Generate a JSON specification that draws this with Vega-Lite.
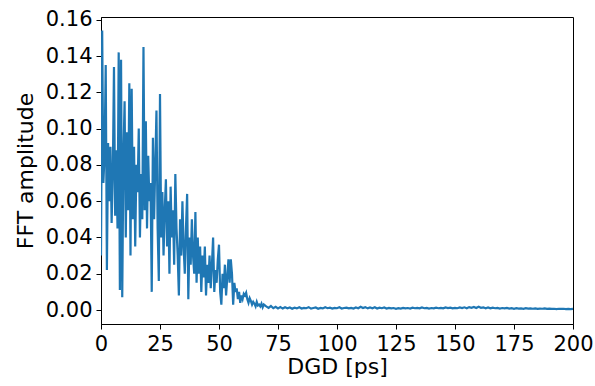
{
  "$schema": "https://vega.github.io/schema/vega-lite/v6.json",
  "width": 472,
  "height": 307,
  "autosize": {"type": "none"},
  "padding": {"left": 101, "top": 17, "right": 22, "bottom": 62},
  "background": "white",
  "view": {"stroke": "black", "strokeWidth": 1},
  "config": {
    "font": "DejaVu Sans",
    "axis": {
      "labelFont": "DejaVu Sans", "titleFont": "DejaVu Sans",
      "labelFontSize": 21, "titleFontSize": 22, "titleFontWeight": "normal",
      "labelColor": "black", "titleColor": "black",
      "domainColor": "black", "tickColor": "black", "tickSize": 5, "tickWidth": 1,
      "domainWidth": 1, "grid": false, "labelPadding": 4
    }
  },
  "data": {"values": [
    {"x":0,"y":0.030},{"x":0.5,"y":0.154},{"x":1,"y":0.070},{"x":1.5,"y":0.085},{"x":2,"y":0.135},{"x":2.5,"y":0.022},
    {"x":3,"y":0.092},{"x":3.5,"y":0.060},{"x":4,"y":0.090},{"x":4.5,"y":0.048},{"x":5,"y":0.075},{"x":5.5,"y":0.134},
    {"x":6,"y":0.052},{"x":6.5,"y":0.088},{"x":7,"y":0.045},{"x":7.5,"y":0.142},{"x":8,"y":0.011},{"x":8.5,"y":0.138},
    {"x":9,"y":0.007},{"x":9.5,"y":0.085},{"x":10,"y":0.115},{"x":10.5,"y":0.040},{"x":11,"y":0.098},{"x":11.5,"y":0.055},
    {"x":12,"y":0.125},{"x":12.5,"y":0.030},{"x":13,"y":0.122},{"x":13.5,"y":0.050},{"x":14,"y":0.090},{"x":14.5,"y":0.035},
    {"x":15,"y":0.080},{"x":15.5,"y":0.065},{"x":16,"y":0.100},{"x":16.5,"y":0.040},{"x":17,"y":0.075},{"x":17.5,"y":0.050},
    {"x":18,"y":0.145},{"x":18.5,"y":0.055},{"x":19,"y":0.104},{"x":19.5,"y":0.045},{"x":20,"y":0.085},{"x":20.5,"y":0.060},
    {"x":21,"y":0.070},{"x":21.5,"y":0.010},{"x":22,"y":0.095},{"x":22.5,"y":0.050},{"x":23,"y":0.080},{"x":23.5,"y":0.110},
    {"x":24,"y":0.045},{"x":24.5,"y":0.016},{"x":25,"y":0.119},{"x":25.5,"y":0.040},{"x":26,"y":0.065},{"x":26.5,"y":0.030},
    {"x":27,"y":0.055},{"x":27.5,"y":0.072},{"x":28,"y":0.035},{"x":28.5,"y":0.060},{"x":29,"y":0.020},{"x":29.5,"y":0.068},
    {"x":30,"y":0.040},{"x":30.5,"y":0.055},{"x":31,"y":0.025},{"x":31.5,"y":0.075},{"x":32,"y":0.045},{"x":32.5,"y":0.030},
    {"x":33,"y":0.008},{"x":33.5,"y":0.050},{"x":34,"y":0.030},{"x":34.5,"y":0.060},{"x":35,"y":0.035},{"x":35.5,"y":0.020},
    {"x":36,"y":0.045},{"x":36.5,"y":0.064},{"x":37,"y":0.006},{"x":37.5,"y":0.040},{"x":38,"y":0.025},{"x":38.5,"y":0.050},
    {"x":39,"y":0.030},{"x":39.5,"y":0.020},{"x":40,"y":0.054},{"x":40.5,"y":0.015},{"x":41,"y":0.040},{"x":41.5,"y":0.020},
    {"x":42,"y":0.035},{"x":42.5,"y":0.010},{"x":43,"y":0.030},{"x":43.5,"y":0.018},{"x":44,"y":0.035},{"x":44.5,"y":0.008},
    {"x":45,"y":0.025},{"x":45.5,"y":0.015},{"x":46,"y":0.030},{"x":46.5,"y":0.012},{"x":47,"y":0.025},{"x":47.5,"y":0.040},
    {"x":48,"y":0.010},{"x":48.5,"y":0.022},{"x":49,"y":0.015},{"x":49.5,"y":0.028},{"x":50,"y":0.036},{"x":50.5,"y":0.010},
    {"x":51,"y":0.003},{"x":51.5,"y":0.020},{"x":52,"y":0.012},{"x":52.5,"y":0.025},{"x":53,"y":0.008},{"x":53.5,"y":0.018},
    {"x":54,"y":0.028},{"x":54.5,"y":0.015},{"x":55,"y":0.028},{"x":55.5,"y":0.020},{"x":56,"y":0.003},{"x":56.5,"y":0.015},
    {"x":57,"y":0.010},{"x":57.5,"y":0.012},{"x":58,"y":0.006},{"x":58.5,"y":0.010},{"x":59,"y":0.004},{"x":59.5,"y":0.008},
    {"x":60,"y":0.006},{"x":60.5,"y":0.009},{"x":61,"y":0.008},{"x":61.5,"y":0.0095},{"x":62,"y":0.006},{"x":62.5,"y":0.004},
    {"x":63,"y":0.0065},{"x":63.5,"y":0.005},{"x":64,"y":0.003},{"x":64.5,"y":0.0045},{"x":65,"y":0.0035},{"x":65.5,"y":0.002},
    {"x":66,"y":0.0045},{"x":66.5,"y":0.0025},{"x":67,"y":0.003},{"x":67.5,"y":0.002},{"x":68,"y":0.0035},{"x":68.5,"y":0.0015},
    {"x":69,"y":0.003},{"x":70,"y":0.002},{"x":71,"y":0.0012},{"x":72,"y":0.0022},{"x":73,"y":0.0010},{"x":74,"y":0.0018},
    {"x":75,"y":0.0009},{"x":76,"y":0.0016},{"x":77,"y":0.0008},{"x":78,"y":0.0015},{"x":79,"y":0.0010},{"x":80,"y":0.0014},
    {"x":81,"y":0.0007},{"x":82,"y":0.0013},{"x":83,"y":0.0009},{"x":84,"y":0.0015},{"x":85,"y":0.0008},{"x":86,"y":0.0012},
    {"x":87,"y":0.0010},{"x":88,"y":0.0016},{"x":89,"y":0.0008},{"x":90,"y":0.0011},{"x":91,"y":0.0014},{"x":92,"y":0.0007},
    {"x":93,"y":0.0012},{"x":94,"y":0.0009},{"x":95,"y":0.0015},{"x":96,"y":0.0010},{"x":97,"y":0.0013},{"x":98,"y":0.0008},
    {"x":99,"y":0.0012},{"x":100,"y":0.0010},{"x":101,"y":0.0015},{"x":102,"y":0.0008},{"x":103,"y":0.0011},{"x":104,"y":0.0013},
    {"x":105,"y":0.0009},{"x":106,"y":0.0012},{"x":107,"y":0.0008},{"x":108,"y":0.0014},{"x":109,"y":0.0010},{"x":110,"y":0.0018},
    {"x":111,"y":0.0011},{"x":112,"y":0.0016},{"x":113,"y":0.0009},{"x":114,"y":0.0014},{"x":115,"y":0.0010},{"x":116,"y":0.0015},
    {"x":117,"y":0.0008},{"x":118,"y":0.0013},{"x":119,"y":0.0010},{"x":120,"y":0.0014},{"x":121,"y":0.0008},{"x":122,"y":0.0012},
    {"x":123,"y":0.0009},{"x":124,"y":0.0011},{"x":125,"y":0.0007},{"x":126,"y":0.0010},{"x":127,"y":0.0008},{"x":128,"y":0.0012},
    {"x":129,"y":0.0009},{"x":130,"y":0.0011},{"x":131,"y":0.0008},{"x":132,"y":0.0013},{"x":133,"y":0.0010},{"x":134,"y":0.0012},
    {"x":135,"y":0.0009},{"x":136,"y":0.0014},{"x":137,"y":0.0010},{"x":138,"y":0.0012},{"x":139,"y":0.0008},{"x":140,"y":0.0011},
    {"x":141,"y":0.0009},{"x":142,"y":0.0013},{"x":143,"y":0.0010},{"x":144,"y":0.0012},{"x":145,"y":0.0009},{"x":146,"y":0.0014},
    {"x":147,"y":0.0011},{"x":148,"y":0.0013},{"x":149,"y":0.0009},{"x":150,"y":0.0012},{"x":151,"y":0.0010},{"x":152,"y":0.0014},
    {"x":153,"y":0.0011},{"x":154,"y":0.0015},{"x":155,"y":0.0010},{"x":156,"y":0.0016},{"x":157,"y":0.0012},{"x":158,"y":0.0017},
    {"x":159,"y":0.0011},{"x":160,"y":0.0018},{"x":161,"y":0.0012},{"x":162,"y":0.0015},{"x":163,"y":0.0010},{"x":164,"y":0.0014},
    {"x":165,"y":0.0009},{"x":166,"y":0.0013},{"x":167,"y":0.0010},{"x":168,"y":0.0012},{"x":169,"y":0.0008},{"x":170,"y":0.0011},
    {"x":171,"y":0.0009},{"x":172,"y":0.0012},{"x":173,"y":0.0008},{"x":174,"y":0.0010},{"x":175,"y":0.0007},{"x":176,"y":0.0010},
    {"x":177,"y":0.0008},{"x":178,"y":0.0009},{"x":179,"y":0.0007},{"x":180,"y":0.0010},{"x":181,"y":0.0008},{"x":182,"y":0.0009},
    {"x":183,"y":0.0007},{"x":184,"y":0.0009},{"x":185,"y":0.0006},{"x":186,"y":0.0008},{"x":187,"y":0.0007},{"x":188,"y":0.0009},
    {"x":189,"y":0.0006},{"x":190,"y":0.0008},{"x":191,"y":0.0006},{"x":192,"y":0.0007},{"x":193,"y":0.0005},{"x":194,"y":0.0007},
    {"x":195,"y":0.0006},{"x":196,"y":0.0007},{"x":197,"y":0.0005},{"x":198,"y":0.0006},{"x":199,"y":0.0005},{"x":200,"y":0.0006}
  ]},
  "mark": {"type": "line", "color": "#1f77b4", "strokeWidth": 2.2, "clip": true},
  "encoding": {
    "x": {"field": "x", "type": "quantitative", "title": "DGD [ps]",
      "scale": {"domain": [0, 200], "nice": false, "zero": false},
      "axis": {"values": [0, 25, 50, 75, 100, 125, 150, 175, 200], "format": "d", "labelFlush": false, "labelOverlap": false, "titlePadding": 2}},
    "y": {"field": "y", "type": "quantitative", "title": "FFT amplitude",
      "scale": {"domain": [-0.0077, 0.1615], "nice": false, "zero": false},
      "axis": {"values": [0, 0.02, 0.04, 0.06, 0.08, 0.1, 0.12, 0.14, 0.16], "format": ".2f", "labelFlush": false, "labelOverlap": false, "titlePadding": 8}}
  }
}
